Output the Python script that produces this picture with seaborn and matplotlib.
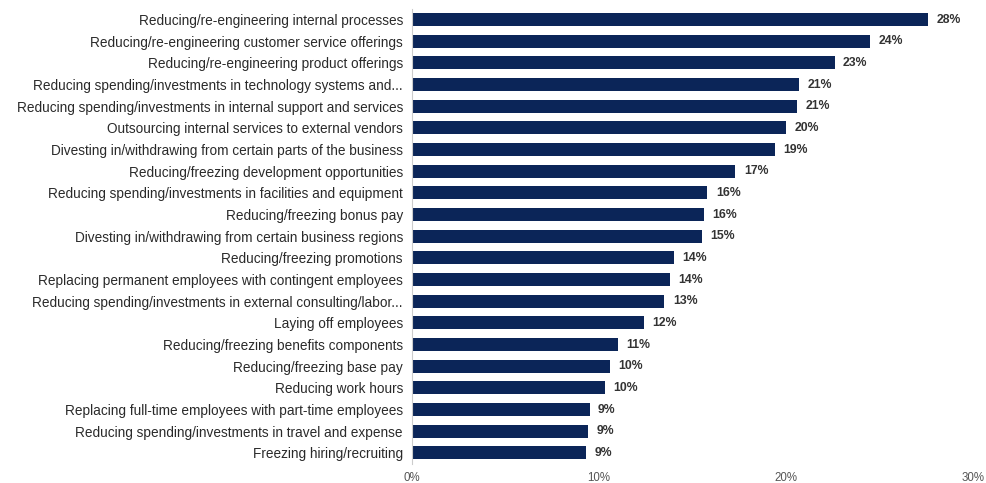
import matplotlib
matplotlib.use("Agg")
import matplotlib.pyplot as plt
import seaborn as sns
import pandas as pd

categories = [
    "Reducing/re-engineering internal processes",
    "Reducing/re-engineering customer service offerings",
    "Reducing/re-engineering product offerings",
    "Reducing spending/investments in technology systems and...",
    "Reducing spending/investments in internal support and services",
    "Outsourcing internal services to external vendors",
    "Divesting in/withdrawing from certain parts of the business",
    "Reducing/freezing development opportunities",
    "Reducing spending/investments in facilities and equipment",
    "Reducing/freezing bonus pay",
    "Divesting in/withdrawing from certain business regions",
    "Reducing/freezing promotions",
    "Replacing permanent employees with contingent employees",
    "Reducing spending/investments in external consulting/labor...",
    "Laying off employees",
    "Reducing/freezing benefits components",
    "Reducing/freezing base pay",
    "Reducing work hours",
    "Replacing full-time employees with part-time employees",
    "Reducing spending/investments in travel and expense",
    "Freezing hiring/recruiting",
]
values = [27.6, 24.5, 22.6, 20.7, 20.6, 20.0, 19.4, 17.3, 15.8, 15.6, 15.5,
          14.0, 13.8, 13.5, 12.4, 11.0, 10.6, 10.3, 9.5, 9.4, 9.3]
value_labels = ["28%", "24%", "23%", "21%", "21%", "20%", "19%", "17%", "16%", "16%", "15%",
                "14%", "14%", "13%", "12%", "11%", "10%", "10%", "9%", "9%", "9%"]
xticks = [0, 10, 20, 30]
xtick_labels = ["0%", "10%", "20%", "30%"]

df = pd.DataFrame({"category": categories, "value": values})

sns.set_theme(style="white")
plt.rcParams["font.family"] = ["Liberation Sans", "DejaVu Sans"]

fig = plt.figure(figsize=(9.87, 4.83), dpi=100)
ax = fig.add_axes([0.4174, 0.0398, 0.9858 - 0.4174, 0.982 - 0.0398])

sns.barplot(data=df, x="value", y="category", color="#0b2558", saturation=1,
            width=0.6, linewidth=0, ax=ax, orient="h")

for i, (v, lab) in enumerate(zip(values, value_labels)):
    ax.text(v + 0.45, i, lab, va="center", ha="left", fontsize=8.8,
            fontweight="bold", color="#333333")

ax.set_xlim(0, 30)
ax.set_xticks(xticks)
ax.set_xticklabels(xtick_labels, fontsize=8.3, color="#555555")
ax.tick_params(axis="y", labelsize=9.8, colors="#2a2a2a", length=0, pad=6.5)
ax.tick_params(axis="x", length=0, pad=6)
ax.set_xlabel("")
ax.set_ylabel("")
for s in ["top", "right", "bottom"]:
    ax.spines[s].set_visible(False)
ax.spines["left"].set_color("#cccccc")
ax.spines["left"].set_linewidth(0.8)

fig.savefig("out.png", dpi=100)
